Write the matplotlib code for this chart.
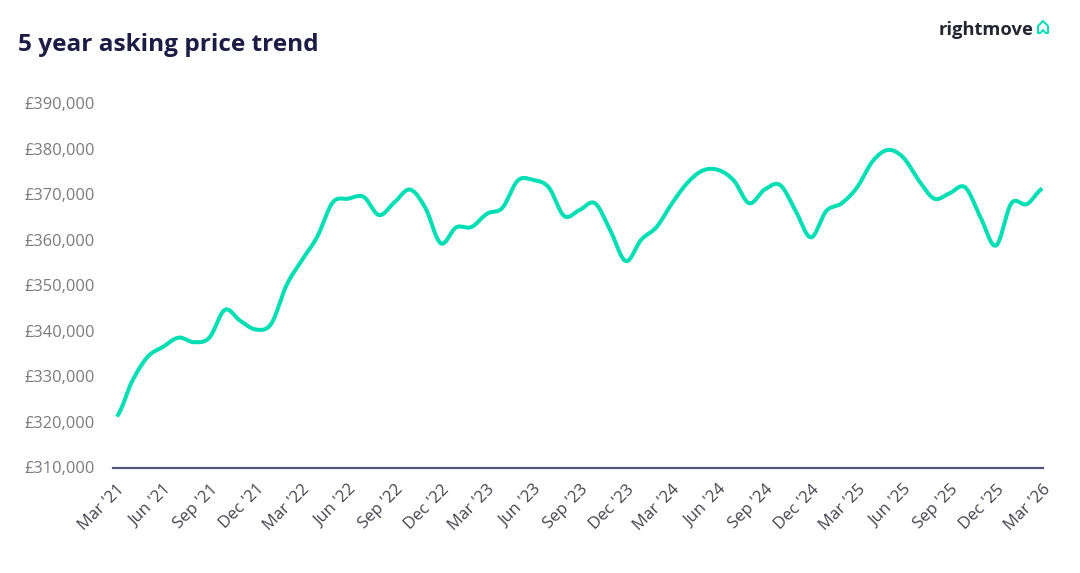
import numpy as np
import matplotlib
matplotlib.use('Agg')
from matplotlib import pyplot as plt
from matplotlib.lines import Line2D

# monthly asking prices, Mar '21 .. Mar '26
months = ['Mar', 'Apr', 'May', 'Jun', 'Jul', 'Aug', 'Sep', 'Oct', 'Nov', 'Dec', 'Jan', 'Feb']
prices = [321200, 329000, 334300, 336500, 338500, 337500, 338500, 344600, 342200, 340300,
          341500, 350000, 355500, 360700, 368200, 369000, 369400, 365400, 368200, 371000,
          367000, 359200, 362700, 362800, 365700, 367000, 373000, 373100, 371500, 365200,
          366500, 368000, 362000, 355300, 360000, 362800, 368000, 372500, 375200, 375300,
          373000, 368000, 371000, 372000, 366400, 360500, 366300, 368000, 371500, 377200,
          379700, 378000, 373000, 369000, 370200, 371500, 364900, 358700, 368000, 367800,
          371200]
y_ticks = [310000, 320000, 330000, 340000, 350000, 360000, 370000, 380000, 390000]

title = '5 year asking price trend'
line_col = '#00deb4'
navy = '#1c1c45'

# month labels
labels = []
for i in range(len(prices)):
    m = months[i % 12]
    yr = 21 + (i + 2) // 12
    labels.append("%s '%d" % (m, yr))

# catmull-rom smoothing so it looks like the spline in the original
def smooth(y, n=12):
    y = np.asarray(y, dtype=float)
    p = np.concatenate([[y[0]], y, [y[-1]]])
    xs, ys = [], []
    for i in range(len(y) - 1):
        p0, p1, p2, p3 = p[i], p[i + 1], p[i + 2], p[i + 3]
        t = np.linspace(0, 1, n, endpoint=False)
        v = 0.5 * ((2 * p1) + (-p0 + p2) * t + (2 * p0 - 5 * p1 + 4 * p2 - p3) * t ** 2
                   + (-p0 + 3 * p1 - 3 * p2 + p3) * t ** 3)
        xs.append(i + t)
        ys.append(v)
    xs.append([len(y) - 1])
    ys.append([y[-1]])
    return np.concatenate(xs), np.concatenate(ys)

plt.rcParams['font.family'] = ['Open Sans', 'DejaVu Sans']

fig = plt.figure(figsize=(10.8, 5.73), dpi=100)
ax = fig.add_axes([113 / 1080, 1 - 467.5 / 573, (1043 - 113) / 1080, (467.5 - 103) / 573])

sx, sy = smooth(prices)
ax.plot(sx, sy, color=line_col, lw=2.9, solid_capstyle='butt')

ax.set_xlim(-0.25, 60.05)
ax.set_ylim(310000, 390000)
ax.set_yticks(y_ticks)
ax.set_yticklabels(['£{:,}'.format(v) for v in y_ticks], color='#7a7a80', fontsize=11.8)
tick_pos = list(range(0, len(prices), 3))
ax.set_xticks(tick_pos)
ax.set_xticklabels([labels[i] for i in tick_pos], rotation=45, ha='right', va='top',
                   rotation_mode='anchor', color='#44444e', fontsize=12)
ax.tick_params(axis='both', length=0)
ax.tick_params(axis='y', pad=13)
ax.tick_params(axis='x', pad=10)
for s in ['top', 'right', 'left']:
    ax.spines[s].set_visible(False)
ax.spines['bottom'].set_color('#55557a')
ax.spines['bottom'].set_linewidth(1.6)

fig.text(18 / 1080, 1 - 45 / 573, title, fontsize=17.6, fontweight='bold', color=navy,
         va='center', ha='left')

# rightmove logo
fig.text(1034 / 1080, 1 - 30 / 573, 'rightmove', fontsize=13.2, fontweight='bold',
         color='#262633', va='center', ha='right')
hx = np.array([1038, 1038, 1043, 1048, 1048, 1045.5, 1043, 1040.5, 1038]) / 1080
hy = 1 - np.array([33, 26, 21, 26, 33, 33, 30, 33, 33]) / 573
fig.add_artist(Line2D(hx, hy, color=line_col, lw=1.4, transform=fig.transFigure))

fig.savefig('out.png', dpi=100, facecolor='white')
